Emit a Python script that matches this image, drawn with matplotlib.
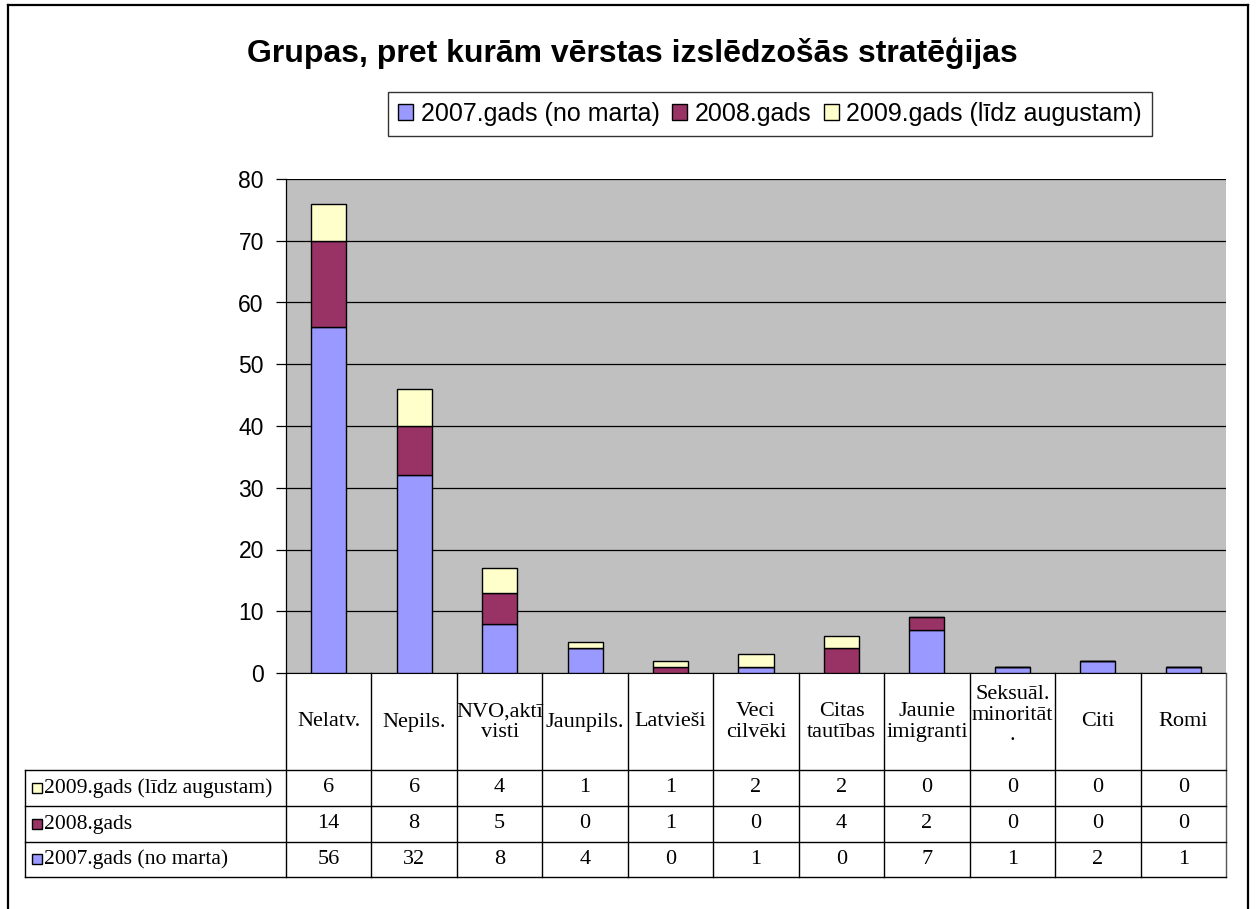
import matplotlib
matplotlib.use("Agg")
import matplotlib.pyplot as plt
from matplotlib.patches import Patch, Rectangle
import numpy as np

categories = ["Nelatv.", "Nepils.", "NVO,aktī\nvisti", "Jaunpils.", "Latvieši",
              "Veci\ncilvēki", "Citas\ntautības", "Jaunie\nimigranti",
              "Seksuāl.\nminoritāt\n.", "Citi", "Romi"]
series_names = ["2007.gads (no marta)", "2008.gads", "2009.gads (līdz augustam)"]
v2007 = [56, 32, 8, 4, 0, 1, 0, 7, 1, 2, 1]
v2008 = [14, 8, 5, 0, 1, 0, 4, 2, 0, 0, 0]
v2009 = [6, 6, 4, 1, 1, 2, 2, 0, 0, 0, 0]
colors = ["#9999FF", "#993366", "#FFFFCC"]
title = "Grupas, pret kurām vērstas izslēdzošās stratēģijas"

W, H = 1256, 909
fig = plt.figure(figsize=(W / 100, H / 100), dpi=100)
fig.patch.set_facecolor("white")

def fx(px):
    return px / W

def fy(py):
    return 1 - py / H

# outer border
for xs, ys in [([8, 8], [5, 909]), ([8, 1248], [5, 5]), ([1248, 1248], [5, 909])]:
    fig.add_artist(plt.Line2D([fx(v) for v in xs], [fy(v) for v in ys],
                              transform=fig.transFigure, color="black", lw=1.6))

px_l, px_r, py_t, py_b = 286, 1226, 179, 673
ax = fig.add_axes([fx(px_l), fy(py_b), fx(px_r) - fx(px_l), fy(py_t) - fy(py_b)])
ax.set_facecolor("#C0C0C0")
n = len(categories)
x = np.arange(n)
bw = 0.41
bottom = np.zeros(n)
for vals, c, name in zip([v2007, v2008, v2009], colors, series_names):
    ax.bar(x, vals, bw, bottom=bottom, color=c, edgecolor="black", lw=1.0, zorder=3, label=name)
    bottom += np.array(vals)
ax.set_xlim(-0.5, n - 0.5)
ax.set_ylim(0, 80)
ax.set_yticks(range(0, 81, 10))
ax.yaxis.grid(True, color="black", lw=0.9, zorder=1)
ax.set_axisbelow(True)
ax.set_xticks([])
ax.tick_params(axis="y", direction="out", length=7, width=0.9, labelsize=16.5, pad=9)
for lab in ax.get_yticklabels():
    lab.set_fontfamily("Liberation Sans")
for s in ["top", "right"]:
    ax.spines[s].set_visible(False)
ax.spines["left"].set_color("black")
ax.spines["bottom"].set_color("black")
ax.spines["left"].set_linewidth(0.9)

# title
fig.text(fx(632), fy(53), title, ha="center", va="center", fontsize=23,
         fontweight="bold", family="Liberation Sans")

# legend
handles = [Patch(facecolor=c, edgecolor="black", lw=1.0) for c in colors]
leg = fig.legend(handles, series_names, loc="center", bbox_to_anchor=(fx(770), fy(114)),
                 ncol=3, frameon=True, fancybox=False, edgecolor="black",
                 prop={"family": "Liberation Sans", "size": 18},
                 handlelength=0.6, handleheight=0.6, handletextpad=0.3,
                 columnspacing=0.5, borderpad=0.4, borderaxespad=0)
leg.get_frame().set_linewidth(1.0)

# data table
tab_left = 25
unit = (px_r - px_l) / n
left_units = (px_l - tab_left) / unit
tb_top, tb_bot = 673, 877
tax = fig.add_axes([fx(tab_left), fy(tb_bot), fx(px_r) - fx(tab_left), fy(tb_top) - fy(tb_bot)])
tax.set_xlim(-0.5 - left_units, n - 0.5)
tax.set_ylim(tb_bot, tb_top)
tax.axis("off")
row_lines = [770, 806, 842, 877]
for i in range(n + 1):
    tax.plot([i - 0.5, i - 0.5], [tb_top, tb_bot], color="black" if i < n else "#555555",
             lw=1.0, clip_on=False)
tax.plot([-0.5 - left_units] * 2, [770, 877], color="black", lw=1.0, clip_on=False)
for r in row_lines:
    tax.plot([-0.5 - left_units, n - 0.5], [r, r], color="black", lw=1.0, clip_on=False)
for i, c in enumerate(categories):
    nl = c.count("\n")
    ycenter = 722 if nl < 2 else 715
    tax.text(i, ycenter, c, ha="center", va="center", fontsize=16,
             family="Liberation Serif", linespacing=1.12)
rows = [(series_names[2], v2009, colors[2]), (series_names[1], v2008, colors[1]),
        (series_names[0], v2007, colors[0])]
for (name, vals, c), (y0, y1) in zip(rows, zip(row_lines[:-1], row_lines[1:])):
    ym = (y0 + y1) / 2
    xm = -0.5 - left_units + 7 / unit
    tax.add_patch(Rectangle((xm, ym - 5), 10 / unit, 10, facecolor=c, edgecolor="black",
                            lw=1.0, clip_on=False))
    tax.text(xm + 12 / unit, ym, name, ha="left", va="center", fontsize=15.6,
             family="Liberation Serif")
    for i, v in enumerate(vals):
        tax.text(i, ym, str(v), ha="center", va="center", fontsize=16, family="Liberation Serif")

fig.savefig("out.png", dpi=100, facecolor="white")
